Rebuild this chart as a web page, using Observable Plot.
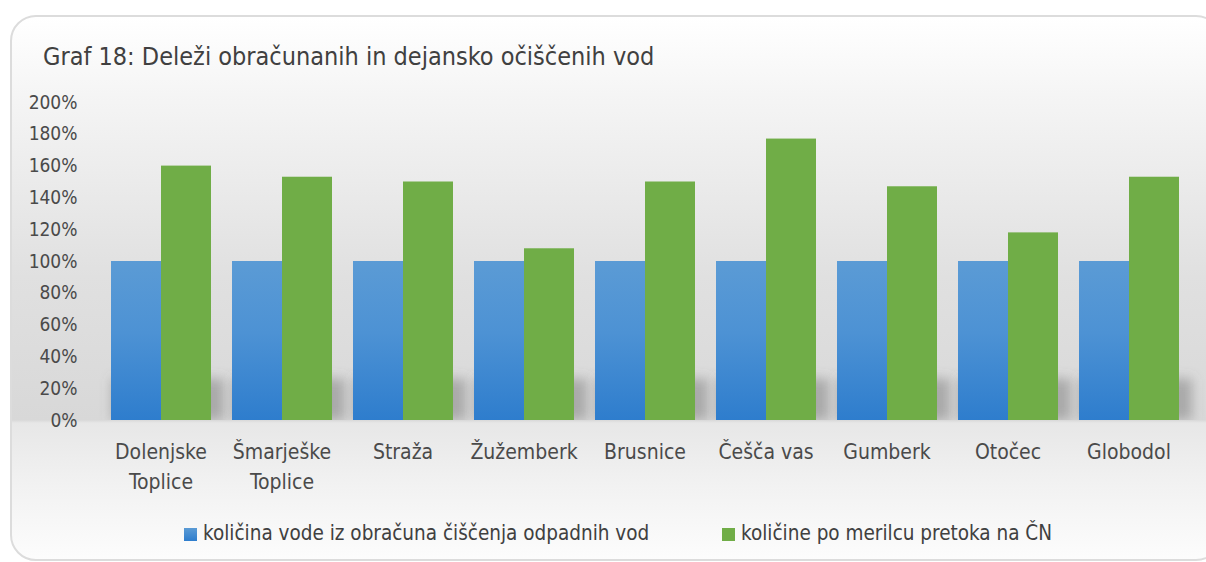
<!DOCTYPE html>
<html><head><meta charset="utf-8">
<script src="https://cdn.jsdelivr.net/npm/d3@7"></script>
<script src="https://cdn.jsdelivr.net/npm/@observablehq/plot@0.6"></script>
<style>
html,body{margin:0;padding:0;background:#fff;width:1206px;height:562px;overflow:hidden;}
body{font-family:"DejaVu Sans Condensed","DejaVu Sans",sans-serif;font-stretch:condensed;position:relative;}
#card{position:absolute;left:10px;top:15px;width:1212px;height:546px;border:2px solid #dcdcdc;border-radius:26px;box-sizing:border-box;
background:linear-gradient(to bottom,#ffffff 0px,#f4f4f4 85px,#e0e0e0 260px,#d8d8d8 403px,#e7e7e7 406px,#f2f2f2 470px,#fdfdfd 546px);}
#title{position:absolute;left:43px;top:41px;font-size:25px;color:#404040;white-space:nowrap;line-height:32px;}
#chart{position:absolute;left:0;top:0;}
.lg{position:absolute;top:520px;font-size:20.5px;color:#404040;white-space:nowrap;line-height:26px;}
.lg i{display:inline-block;width:13px;height:13px;margin-right:6px;vertical-align:-1px;}
</style></head>
<body>
<div id="card"></div>
<div id="title">Graf 18: Deleži obračunanih in dejansko očiščenih vod</div>
<div id="chart"></div>
<div id="legend"></div>
<script>
const cities = ["Dolenjske Toplice","Šmarješke Toplice","Straža","Žužemberk","Brusnice","Češča vas","Gumberk","Otočec","Globodol"];
const cityLabels = ["Dolenjske\nToplice","Šmarješke\nToplice","Straža","Žužemberk","Brusnice","Češča vas","Gumberk","Otočec","Globodol"];
const series = ["količina vode iz obračuna čiščenja odpadnih vod","količine po merilcu pretoka na ČN"];
const billed = [100,100,100,100,100,100,100,100,100];
const measured = [160,153,150,108,150,177,147,118,153];
const yTicks = [0,20,40,60,80,100,120,140,160,180,200];

const data = [];
cities.forEach((c,i)=>{
  data.push({city:c, series:series[0], value:billed[i]});
  data.push({city:c, series:series[1], value:measured[i]});
});

const FONT = '"DejaVu Sans Condensed","DejaVu Sans",sans-serif';
const SHADOW_H = 26;

const plot = Plot.plot({
  width: 1206, height: 500,
  marginLeft: 99, marginRight: 16, marginTop: 102, marginBottom: 80,
  style: {background:"transparent", fontFamily: FONT, fontSize:"19px", color:"#4a4a4a", fontStretch:"condensed"},
  fx: {domain: cities, paddingInner: 0.165, paddingOuter: 0.083, label: null, axis: null},
  x: {domain: series, padding: 0, axis: null},
  y: {domain: [0,200], label: null, axis: null},
  color: {domain: series, range: ["url(#blueGrad)", "#70ad47"]},
  marks: [
    Plot.barY(cities, {fx: d=>d, y: ()=>SHADOW_H, fill:"#6e6e6e", fillOpacity:0.45, insetLeft:-1, insetRight:-10, dx:3, ariaLabel:()=>"shadow"}),
    Plot.barY(data, {fx:"city", x:"series", y:"value", fill:"series"}),
    Plot.axisY({ticks: yTicks, tickFormat: d=>d+"%", tickSize:0, tickPadding:33, label:null, fontSize:19}),
    Plot.axisFx({anchor:"bottom", tickSize:0, tickPadding:18, lineHeight:1.4, label:null, fontSize:21, tickFormat: d=>cityLabels[cities.indexOf(d)]})
  ]
});

const svg = d3.select(plot);
const defs = svg.insert("defs", ":first-child");
const g = defs.append("linearGradient").attr("id","blueGrad").attr("x1",0).attr("y1",0).attr("x2",0).attr("y2",1);
g.append("stop").attr("offset","0%").attr("stop-color","#5b9bd5");
g.append("stop").attr("offset","45%").attr("stop-color","#4d92d4");
g.append("stop").attr("offset","100%").attr("stop-color","#2e7dcd");
const f = defs.append("filter").attr("id","blur").attr("filterUnits","userSpaceOnUse").attr("x",-2000).attr("y",0).attr("width",5000).attr("height",1000);
f.append("feGaussianBlur").attr("stdDeviation",6);
defs.append("clipPath").attr("id","floorClip").attr("clipPathUnits","userSpaceOnUse")
  .append("rect").attr("x",-2000).attr("y",0).attr("width",5000).attr("height",420);
svg.selectAll('[aria-label="shadow"]').attr("filter","url(#blur)").attr("clip-path","url(#floorClip)");

document.getElementById("chart").appendChild(plot);

const legendPos = [184, 722];
const legendFill = ["linear-gradient(to bottom,#5b9bd5,#2e7dcd)", "#70ad47"];
series.forEach((s,i)=>{
  const d = document.createElement("div");
  d.className = "lg";
  d.style.left = legendPos[i] + "px";
  d.innerHTML = `<i style="background:${legendFill[i]}"></i>${s}`;
  document.getElementById("legend").appendChild(d);
});
</script>
</body></html>
